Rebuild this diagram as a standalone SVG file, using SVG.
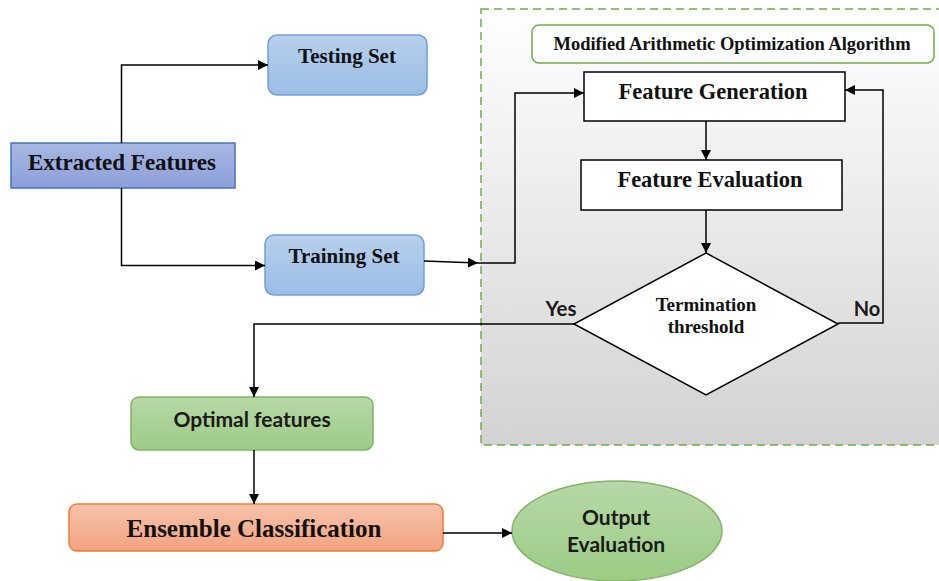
<svg xmlns="http://www.w3.org/2000/svg" width="939" height="581" viewBox="0 0 939 581">
<defs>
<linearGradient id="gBlue" x1="0" y1="0" x2="0" y2="1"><stop offset="0" stop-color="#b7d0ec"/><stop offset="1" stop-color="#9bbde6"/></linearGradient>
<linearGradient id="gIndigo" x1="0" y1="0" x2="0" y2="1"><stop offset="0" stop-color="#a8b8e3"/><stop offset="1" stop-color="#8c9fd9"/></linearGradient>
<linearGradient id="gGreen" x1="0" y1="0" x2="0" y2="1"><stop offset="0" stop-color="#b7d8a7"/><stop offset="1" stop-color="#9ccc85"/></linearGradient>
<linearGradient id="gOrange" x1="0" y1="0" x2="0" y2="1"><stop offset="0" stop-color="#f7c2aa"/><stop offset="1" stop-color="#f3a381"/></linearGradient>
<linearGradient id="gGray" x1="0" y1="0" x2="0" y2="1"><stop offset="0" stop-color="#ffffff"/><stop offset="1" stop-color="#d3d3d3"/></linearGradient>
<marker id="arr" viewBox="0 0 10 10" refX="10" refY="5" markerWidth="10" markerHeight="10" markerUnits="userSpaceOnUse" orient="auto"><path d="M0,0 L10,5 L0,10 z" fill="#000"/></marker>
<style>
.ser{font-family:"Liberation Serif","Times New Roman",serif;font-weight:bold;fill:#111;text-anchor:middle}
.san{font-family:Lato,"Liberation Sans",sans-serif;font-weight:bold;fill:#1a1a1a;text-anchor:middle}
.conn{fill:none;stroke:#000;stroke-width:1.5}
.box{fill:#fff;stroke:#000;stroke-width:1.5}
</style>
</defs>
<rect width="939" height="581" fill="#fff"/>
<g id="container">
<rect x="481" y="9" width="470" height="436" fill="url(#gGray)" stroke="#70ad47" stroke-width="1.5" stroke-dasharray="8,5"/>
</g>
<g id="maoa">
<rect x="532" y="25" width="402" height="38" rx="7" fill="#fff" stroke="#70ad47" stroke-width="1.5"/>
<text class="ser" x="732" y="50" font-size="18.5">Modified Arithmetic Optimization Algorithm</text>
</g>
<g id="extracted">
<rect x="11" y="143" width="224" height="45" fill="url(#gIndigo)" stroke="#4472c4" stroke-width="1.5"/>
<text class="ser" x="122" y="170" font-size="23">Extracted Features</text>
</g>
<g id="testing">
<rect x="268" y="35" width="159" height="60" rx="9" fill="url(#gBlue)" stroke="#6fa0dc" stroke-width="1.5"/>
<text class="ser" x="347" y="63" font-size="21">Testing Set</text>
</g>
<g id="training">
<rect x="265" y="235" width="159" height="60" rx="9" fill="url(#gBlue)" stroke="#6fa0dc" stroke-width="1.5"/>
<text class="ser" x="344" y="263" font-size="21">Training Set</text>
</g>
<g id="featgen">
<rect class="box" x="584" y="72" width="261" height="49"/>
<text class="ser" x="713" y="99" font-size="22.5">Feature Generation</text>
</g>
<g id="feateval">
<rect class="box" x="581" y="160" width="261" height="50"/>
<text class="ser" x="710" y="187" font-size="22.5">Feature Evaluation</text>
</g>
<g id="decision">
<polygon points="706,253 838,324 706,395 574,324" fill="#fff" stroke="#000" stroke-width="1.5"/>
<text class="ser" x="706" y="311" font-size="19">Termination</text>
<text class="ser" x="706" y="333" font-size="19">threshold</text>
</g>
<g id="optimal">
<rect x="131" y="397" width="242" height="53" rx="8" fill="url(#gGreen)" stroke="#82b366" stroke-width="1.5"/>
<text class="san" x="252" y="427" font-size="21">Optimal features</text>
</g>
<g id="ensemble">
<rect x="69" y="504" width="374" height="47" rx="8" fill="url(#gOrange)" stroke="#ed7d31" stroke-width="1.5"/>
<text class="ser" x="254" y="537" font-size="25">Ensemble Classification</text>
</g>
<g id="output">
<ellipse cx="617" cy="531" rx="105" ry="50" fill="url(#gGreen)" stroke="#82b366" stroke-width="1.5"/>
<text class="san" x="616" y="525" font-size="21">Output</text>
<text class="san" x="616" y="552" font-size="21">Evaluation</text>
</g>
<g id="connectors">
<path class="conn" d="M121.5,143 V65 H268" marker-end="url(#arr)"/>
<path class="conn" d="M121.5,188 V265.5 H265" marker-end="url(#arr)"/>
<path class="conn" d="M424,261 L478,263" marker-end="url(#arr)"/>
<path class="conn" d="M478,263 H515 V93 H584" marker-end="url(#arr)"/>
<path class="conn" d="M706,121 V160" marker-end="url(#arr)"/>
<path class="conn" d="M706,210 V253" marker-end="url(#arr)"/>
<path class="conn" d="M838,323 H883 V90 H845" marker-end="url(#arr)"/>
<path class="conn" d="M574,324 H254 V397" marker-end="url(#arr)"/>
<path class="conn" d="M254,450 V504" marker-end="url(#arr)"/>
<path class="conn" d="M443,533 H512" marker-end="url(#arr)"/>
<text class="san" x="561" y="316" font-size="20.5">Yes</text>
<text class="san" x="867" y="316" font-size="20">No</text>
</g>
</svg>
